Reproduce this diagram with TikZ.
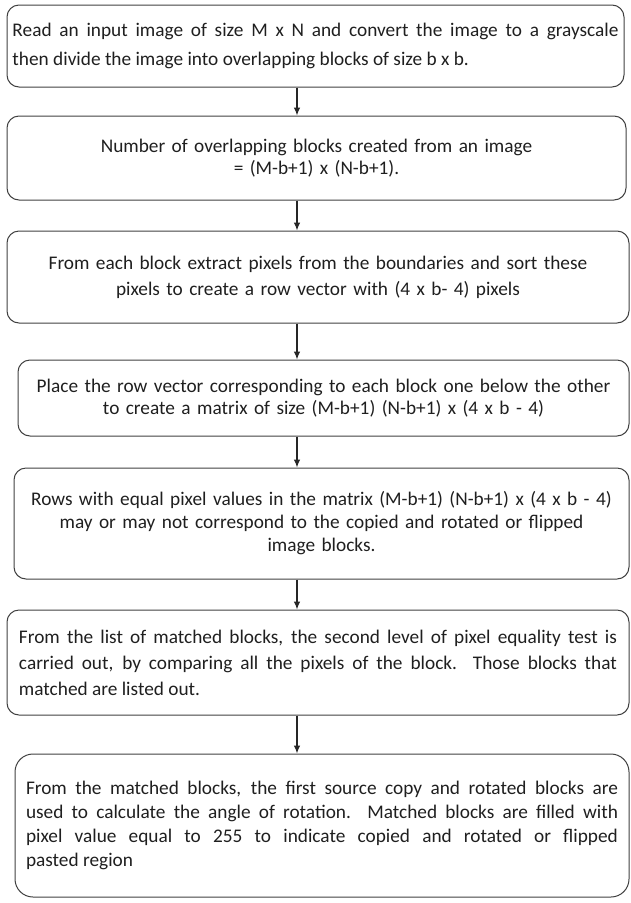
\documentclass[tikz,border=0pt]{standalone}
\usepackage{fontspec}
\setmainfont{Carlito}
\usetikzlibrary{arrows.meta}

\begin{document}
\begin{tikzpicture}[x=1pt,y=-1pt,
    stepbox/.style={draw=black!75, line width=1pt, rounded corners=12pt, inner xsep=0pt, inner ysep=0pt, text=black!88},
    flow/.style={draw=black!85, line width=1.1pt, -{Latex[length=8pt,width=6.5pt]}}]
    \useasboundingbox (0,0) rectangle (631,903);
    \coordinate (ax) at (297,0);
    \node[stepbox, minimum width=617pt, minimum height=82pt, text width=606pt, align=justify, font=\fontsize{19.3}{29}\selectfont] (read) at (315.5,46)
        {Read an input image of size M x N and convert the image to a grayscale\linebreak then divide the image into overlapping blocks of size b x b.};
    \node[stepbox, minimum width=619pt, minimum height=84pt, text width=600pt, align=center, font=\fontsize{19.3}{22}\selectfont] (count) at (316.5,158)
        {Number of overlapping blocks created from an image\\ = (M-b+1) x (N-b+1).};
    \node[stepbox, minimum width=622pt, minimum height=92pt, text width=600pt, align=center, font=\fontsize{19.3}{26}\selectfont] (extract) at (318,277)
        {From each block extract pixels from the boundaries and sort these\\ pixels to create a row vector with (4 x b- 4) pixels};
    \node[stepbox, minimum width=611pt, minimum height=76pt, text width=600pt, align=center, font=\fontsize{19.3}{22.5}\selectfont] (place) at (323.5,398)
        {Place the row vector corresponding to each block one below the other\\ to create a matrix of size (M-b+1) (N-b+1) x (4 x b - 4)};
    \node[stepbox, minimum width=615pt, minimum height=111pt, text width=600pt, align=center, font=\fontsize{19.3}{23}\selectfont] (rows) at (321.5,523.5)
        {Rows with equal pixel values in the matrix (M-b+1) (N-b+1) x (4 x b - 4)\\ may or may not correspond to the copied and rotated or flipped\\ image blocks.};
    \node[stepbox, minimum width=622pt, minimum height=105pt, text width=598pt, align=justify, font=\fontsize{19.3}{26}\selectfont] (verify) at (318,662.5)
        {From the list of matched blocks, the second level of pixel equality test is\linebreak carried out, by comparing all the pixels of the block.\ \ Those blocks that\linebreak matched are listed out.};
    \node[stepbox, rounded corners=18pt, minimum width=614pt, minimum height=143pt, text width=592pt, align=justify, font=\fontsize{19.3}{24}\selectfont] (fill) at (322,825.5)
        {From the matched blocks, the first source copy and rotated blocks are\linebreak used to calculate the angle of rotation.\ \ Matched blocks are filled with\linebreak pixel value equal to 255 to indicate copied and rotated or flipped\linebreak pasted region};
    \draw[flow] (read.south -| ax) -- (count.north -| ax);
    \draw[flow] (count.south -| ax) -- (extract.north -| ax);
    \draw[flow] (extract.south -| ax) -- (place.north -| ax);
    \draw[flow] (place.south -| ax) -- (rows.north -| ax);
    \draw[flow] (rows.south -| ax) -- (verify.north -| ax);
    \draw[flow] (verify.south -| ax) -- (fill.north -| ax);
\end{tikzpicture}
\end{document}
